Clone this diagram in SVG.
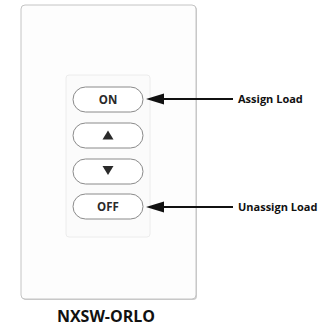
<svg xmlns="http://www.w3.org/2000/svg" width="328" height="327" viewBox="0 0 328 327">
  <style>
    .btn { fill: #ffffff; stroke: #8a8a8a; stroke-width: 1; }
    .btxt { font-family: "Open Sans", "Liberation Sans", sans-serif; font-weight: bold; font-size: 11.5px; fill: #2a2a2a; text-anchor: middle; }
    .lbl { font-family: "Open Sans", "Liberation Sans", sans-serif; font-weight: bold; font-size: 11px; fill: #111111; }
    .lead { stroke: #111111; stroke-width: 2; fill: none; }
    .head { fill: #111111; }
  </style>
  <rect width="328" height="327" fill="#ffffff"/>

  <!-- wall plate -->
  <g id="plate">
    <rect x="22" y="6" width="175" height="294" rx="4" fill="#9a9a9a" opacity="0.5"/>
    <rect x="21" y="5" width="175" height="294" rx="4" fill="#fdfdfd" stroke="#c4c4c4" stroke-width="1"/>
    <rect x="66" y="75" width="84" height="162" rx="3" fill="#fbfbfb" stroke="#ececec" stroke-width="1"/>
  </g>

  <!-- buttons -->
  <g id="btn-on">
    <rect class="btn" x="73" y="87" width="70" height="25" rx="12.5"/>
    <text class="btxt" x="108" y="104">ON</text>
  </g>
  <g id="btn-up">
    <rect class="btn" x="73" y="123" width="70" height="25" rx="12.5"/>
    <polygon points="108,130.5 102.5,139.5 113.5,139.5" fill="#2a2a2a"/>
  </g>
  <g id="btn-down">
    <rect class="btn" x="73" y="159" width="70" height="25" rx="12.5"/>
    <polygon points="108,175 102.5,166 113.5,166" fill="#2a2a2a"/>
  </g>
  <g id="btn-off">
    <rect class="btn" x="73" y="194" width="70" height="25" rx="12.5"/>
    <text class="btxt" x="108" y="211">OFF</text>
  </g>

  <!-- leader arrows -->
  <g id="connectors">
    <line class="lead" x1="233" y1="99" x2="162" y2="99"/>
    <path class="head" d="M146,99 L164,93.5 L164,104.5 Z"/>
    <line class="lead" x1="233" y1="207" x2="162" y2="207"/>
    <path class="head" d="M146,207 L164,201.5 L164,212.5 Z"/>
  </g>

  <g id="label-assign">
    <text class="lbl" x="238" y="103">Assign Load</text>
  </g>
  <g id="label-unassign">
    <text class="lbl" x="238" y="211">Unassign Load</text>
  </g>

  <g id="title">
    <text x="106" y="322" font-family="Open Sans, Liberation Sans, sans-serif" font-weight="bold" font-size="16" fill="#111111" text-anchor="middle">NXSW-ORLO</text>
  </g>
</svg>
